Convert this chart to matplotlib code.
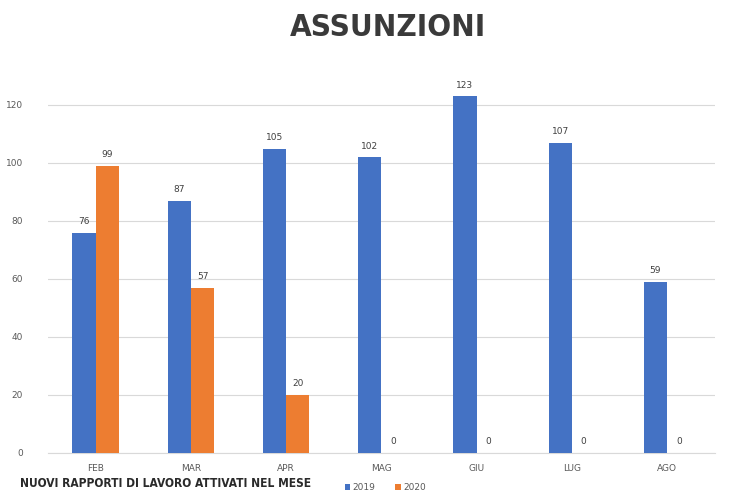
import matplotlib
matplotlib.use("Agg")
import matplotlib.pyplot as plt
from matplotlib import font_manager
import numpy as np

# data
months = ["FEB", "MAR", "APR", "MAG", "GIU", "LUG", "AGO"]
y2019 = [76, 87, 105, 102, 123, 107, 59]
y2020 = [99, 57, 20, 0, 0, 0, 0]
yticks = [0, 20, 40, 60, 80, 100, 120]

blue = "#4472C4"
orange = "#ED7D31"
grey = "#595959"

# narrow bold face for the headings, if one is installed
cond = [f for f in font_manager.fontManager.ttflist
        if "Condensed" in f.fname and "Bold" in f.fname and "Oblique" not in f.fname]
head_font = None
if cond:
    head_font = font_manager.FontProperties(fname=cond[0].fname)

fig = plt.figure(figsize=(7.5, 5), dpi=100)
ax = fig.add_axes([0.064, 0.094, 0.889, 0.812])

x = np.arange(len(months))
w = 0.245
b1 = ax.bar(x - w / 2, y2019, w, color=blue, label="2019", zorder=3)
b2 = ax.bar(x + w / 2, y2020, w, color=orange, label="2020", zorder=3)

for bars in (b1, b2):
    for r in bars:
        h = r.get_height()
        ax.text(r.get_x() + r.get_width() / 2, h + 2.3, f"{h:g}",
                ha="center", va="bottom", fontsize=6.5, color="#404040")

ax.set_xlim(-0.5, len(months) - 0.5)
ax.set_ylim(0, 140)
ax.set_yticks(yticks)
ax.set_xticks(x)
ax.set_xticklabels(months)
ax.tick_params(axis="both", length=0, labelsize=6.5, labelcolor=grey)
ax.tick_params(axis="x", pad=8)
ax.tick_params(axis="y", pad=18)
ax.yaxis.grid(True, color="#d9d9d9", linewidth=0.8, zorder=0)
for s in ["top", "right", "left"]:
    ax.spines[s].set_visible(False)
ax.spines["bottom"].set_color("#d9d9d9")

if head_font is not None:
    t1 = head_font.copy(); t1.set_size(22.5)
    t2 = head_font.copy(); t2.set_size(8.6)
else:
    t1 = font_manager.FontProperties(family="DejaVu Sans", weight="bold", size=20)
    t2 = font_manager.FontProperties(family="DejaVu Sans", weight="bold", size=8)

fig.text(0.517, 0.945, "ASSUNZIONI", ha="center", va="center",
         fontproperties=t1, color="#3a3a3a")
fig.text(0.027, 0.033, "NUOVI RAPPORTI DI LAVORO ATTIVATI NEL MESE", ha="left",
         va="center", fontproperties=t2, color="#2a2a2a")

fig.legend(handles=[b1, b2], loc="center left", bbox_to_anchor=(0.449, 0.024),
           ncol=2, frameon=False, fontsize=6.5, labelcolor=grey,
           handlelength=0.6, handleheight=0.6, handletextpad=0.25,
           columnspacing=2.2)

fig.savefig("out.png", dpi=100)
